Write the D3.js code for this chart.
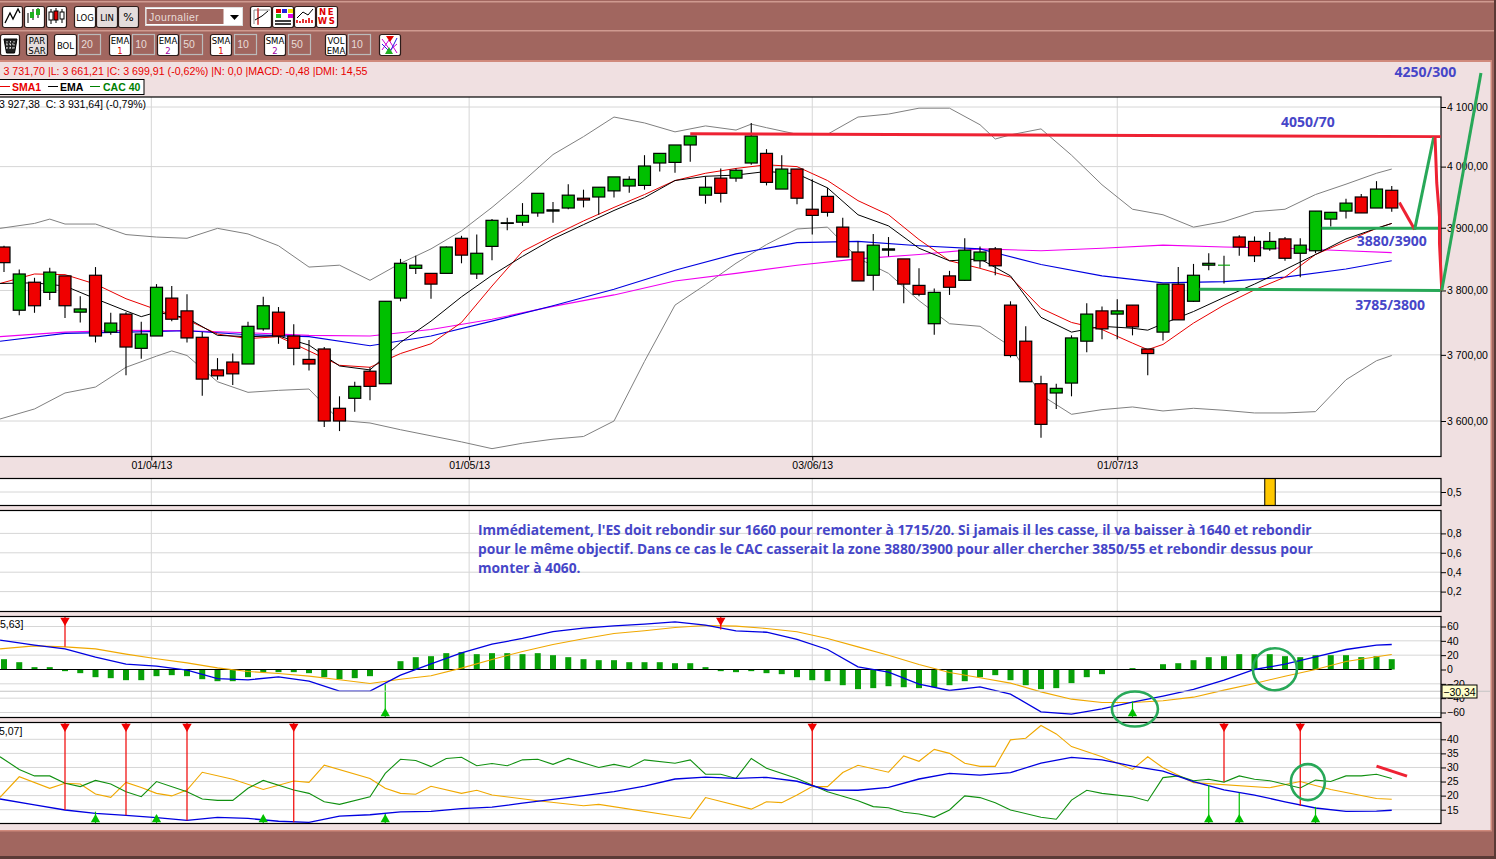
<!DOCTYPE html>
<html>
<head>
<meta charset="utf-8">
<script src="https://cdn.jsdelivr.net/npm/d3@7"></script>
<style>
  html, body { margin: 0; padding: 0; background: #f0e0e1; overflow: hidden; }
  svg { display: block; font-family: "Liberation Sans", Arial, sans-serif; }
  .tick text { font-size: 10.5px; fill: #000; }
</style>
</head>
<body>
<script>
// candles
var open = [3869,3769,3813,3797,3823,3766,3824,3735,3763,3710,3729,3788,3768,3727,3677,3689,3686,3740,3766,3729,3693,3709,3619,3634,3675,3656,3788,3835,3827,3827,3883,3826,3870,3907,3909,3924,3927,3932,3948,3950,3960,3968,3969,4006,4007,4036,3953,3981,3981,4006,4022,3963,3996,3930,3951,3901,3861,3824,3864,3850,3808,3748,3823,3816,3847,3866,3777,3721,3656,3642,3657,3721,3768,3763,3777,3709,3735,3810,3783,3840,3840,3885,3878,3866,3882,3859,3863,3914,3927,3950,3932,3961];
var high = [3871,3833,3820,3836,3823,3791,3837,3765,3766,3751,3810,3807,3794,3735,3695,3702,3751,3790,3774,3747,3723,3712,3637,3659,3681,3783,3850,3855,3827,3870,3887,3889,3914,3916,3940,3956,3942,3971,3962,3966,3983,3984,4019,4022,4036,4051,3984,3997,3997,4073,4029,4019,3996,3979,3965,3916,3878,3890,3885,3850,3835,3803,3831,3883,3870,3869,3783,3744,3668,3656,3730,3780,3775,3786,3777,3709,3810,3837,3842,3859,3855,3888,3886,3893,3885,3883,3927,3925,3947,3955,3976,3968];
var low = [3829,3761,3765,3785,3757,3750,3719,3731,3669,3694,3729,3752,3719,3638,3662,3654,3686,3737,3717,3684,3676,3591,3585,3614,3631,3656,3783,3826,3787,3827,3843,3818,3848,3896,3903,3918,3908,3930,3933,3921,3949,3957,3962,3992,3990,4008,3939,3941,3975,4003,3969,3963,3938,3889,3918,3853,3815,3800,3854,3780,3791,3731,3793,3815,3836,3824,3696,3659,3575,3618,3637,3704,3724,3724,3730,3669,3722,3754,3782,3832,3811,3855,3845,3863,3847,3821,3859,3902,3915,3924,3932,3926];
var close = [3844,3826,3776,3829,3776,3771,3729,3749,3712,3732,3805,3755,3726,3663,3668,3671,3744,3776,3729,3710,3686,3600,3600,3652,3652,3783,3843,3840,3810,3869,3856,3859,3912,3908,3920,3956,3929,3953,3945,3966,3983,3979,4001,4022,4036,4051,3966,3956,3994,4051,3974,3996,3948,3920,3925,3853,3815,3872,3866,3810,3794,3797,3805,3864,3861,3839,3699,3659,3595,3649,3726,3763,3740,3768,3743,3702,3810,3754,3824,3843,3840,3869,3855,3878,3851,3872,3927,3925,3940,3924,3963,3932];

// overlays (first point sits on the left edge of the picture)
var leftEdge = -0.26;
var lineIdx = [leftEdge].concat(d3.range(2, 92, 2), [91]);
function withIdx(extra) { return lineIdx.concat(extra).sort(d3.ascending); }
var bollUpIdx = withIdx([3, 49, 65]);
var bollUp = [3899,3907,3914,3906,3906,3889,3885,3883,3899,3890,3871,3837,3840,3816,3843,3866,3895,3933,3975,4020,4050,4083,4073,4058,4068,4061,4071,4065,4054,4054,4083,4088,4098,4098,4070,4046,4053,4063,4019,3970,3930,3921,3901,3910,3926,3930,3954,3971,3989,3996];
var bollDownIdx = withIdx([11]);
var bollDown = [3603,3618,3642,3651,3681,3698,3706,3699,3659,3643,3646,3648,3601,3597,3587,3578,3569,3559,3567,3573,3577,3600,3690,3777,3809,3843,3873,3898,3901,3851,3827,3784,3748,3744,3713,3639,3610,3617,3621,3615,3619,3616,3612,3612,3614,3662,3691,3699];
var sma1Idx = withIdx([75]);
var sma1 = [3811,3826,3825,3810,3787,3770,3754,3732,3725,3728,3706,3684,3681,3702,3717,3750,3807,3862,3887,3911,3933,3954,3977,3989,3997,4003,4000,3977,3944,3921,3881,3847,3835,3821,3772,3750,3739,3718,3708,3716,3749,3777,3801,3821,3857,3878,3899,3907];
var ema1Idx = withIdx([9, 75]);
var ema1 = [3811,3812,3807,3787,3768,3759,3766,3757,3730,3728,3729,3715,3683,3677,3719,3752,3790,3824,3854,3882,3905,3928,3949,3977,3984,3986,3992,3988,3965,3921,3903,3867,3847,3850,3823,3758,3735,3744,3741,3738,3748,3767,3789,3810,3833,3857,3882,3899,3907];
var slowIdx = [leftEdge].concat(d3.range(4, 92, 4), [91]);
var ema2 = [3721,3733,3735,3737,3731,3728,3714,3729,3752,3776,3802,3832,3858,3876,3878,3871,3866,3841,3823,3812,3814,3821,3834,3847];
var sma2 = [3728,3735,3738,3737,3734,3730,3729,3739,3755,3775,3793,3815,3827,3840,3850,3857,3866,3863,3867,3872,3869,3867,3863,3860];

// dates
var dateIdx = [9.66, 30.5, 53, 73];
var dateLabels = ["01/04/13", "01/05/13", "03/06/13", "01/07/13"];
var priceTicks = [4100, 4000, 3900, 3800, 3700, 3600];

// pane with the single orange bar
var flagTicks = [0.5];
var flagIdx = [83];
var flagVal = [1];

// empty pane with the comment
var noteTicks = [0.8, 0.6, 0.4, 0.2];
var note = [
  "Immédiatement, l'ES doit rebondir sur 1660 pour remonter à 1715/20. Si jamais il les casse, il va baisser à 1640 et rebondir",
  "pour le même objectif. Dans ce cas le CAC casserait la zone 3880/3900 pour aller chercher 3850/55 et rebondir dessus pour",
  "monter à 4060."
];

// MACD
var macdTicks = [60, 40, 20, -20, -40, -60];
var macdHist = [14.4,10.2,3.3,3.3,-2.3,-5.1,-10.7,-12.1,-14.9,-14.9,-9.3,-7.9,-9.3,-13.5,-16.3,-16.3,-10.7,-3.7,-3.7,-3.7,-5.1,-10.7,-13.5,-12.1,-9.3,0,11.6,17.2,18.6,22.8,24.2,21.4,22.8,22.8,21.4,22.8,20,17.2,14.4,13,13,10.2,10.2,10.2,8.8,8.8,3.3,-2.3,-3.7,-2.3,-5.1,-6.5,-10.7,-14.9,-16.3,-21.9,-27.4,-26,-23.3,-24.7,-26,-24.7,-21.9,-16.3,-10.7,-7.9,-14.9,-21.9,-27.4,-26,-19,-10.7,-6.5,0,1.9,0,7.4,8.8,13,17.2,18.6,21.4,21.4,21.4,18.6,17.2,20,20,20,17.2,18.6,14.4];
var macdLine = [40.9,34,28.8,17.2,7.4,4.7,-0.9,-12.6,-14.4,-10.2,-16.3,-30.2,-30.2,-7.9,7.9,23.3,35.3,43.3,53,57.7,60.9,63.3,66.5,61.9,54,52,41.9,27.9,3.7,-3.7,-20.5,-29.3,-24.2,-34.4,-59,-62.3,-54.9,-45.6,-37.2,-27.9,-14.9,0,7.4,17.7,27.9,34,34.9];
var macdSignal = [28.8,33,31.6,28.8,21.4,14.9,9.3,2.3,-2.8,-5.6,-9.3,-14.4,-19.5,-13.5,-8.8,1.9,14,25.1,34.9,42.8,50.2,54,58.6,61.4,60.5,57.2,52.6,43.3,31.6,20,7,-4.2,-11.6,-19,-31.2,-41.4,-46,-46,-43.7,-38.6,-28.8,-19.5,-9.3,0,11.2,17.7,20.9];
var macdSellIdx = [4, 47];
var macdSellVal = [31.6, 55.8];
var macdBuyIdx = [25, 74];
var macdBuyVal = [-20.5, -44.6];
var cursorVal = -30.34;

// DMI
var dmiTicks = [40, 35, 30, 25, 20, 15];
var adx = [18.8,16.7,14.9,13.7,13,12.2,11.2,12.3,11.9,10.9,10.5,12.7,13.2,14.2,14.4,15.4,15.9,17.3,18.7,20,21.4,23.4,25.9,26.6,26.1,26.5,25.1,22,21.9,22.9,25.9,27.9,27.3,28.2,31.5,33.6,32.7,30.5,28.7,25,22,20.2,17.8,15.6,14.4,14.5,14.8];
var dmiMinusIdx = [leftEdge,1,3,4,5,6,7,8,9,10,11,12,13,15,17,19,20,21,24,25,26,27,28,30,31,32,35,38,39,45,46,49,50,51,52,53,54,55,56,58,59,60,61,62,63,64,65,66,67,68,69,70,72,74,75,76,78,83,85,87,90,91];
var dmiMinus = [19.4,26.7,22.6,24.4,24.1,20.6,19.4,24.7,22.9,20.8,19.9,22,28.3,25.8,22.2,25.2,24.7,30.8,26.1,22.6,20.8,20.5,23.3,20.8,21.9,20.2,18.2,16.4,16.9,11.9,19.3,15.2,17.8,17.5,20.2,23.2,23.2,28.2,30.8,28.3,34.1,32.2,36.4,35,31.5,30.4,30.4,39.8,40.4,44.9,41.9,37.4,33.8,29.3,33.8,29.9,24.6,22.8,25,22.2,19,18.7];
var dmiPlusIdx = [leftEdge,1,2,3,4,5,6,7,8,9,10,12,13,14,15,16,17,19,20,21,22,24,25,26,27,28,29,30,31,32,33,34,35,36,37,39,40,41,42,44,45,46,47,48,49,50,52,54,56,57,58,59,60,61,62,63,64,65,66,68,69,70,71,72,74,75,76,77,78,79,80,81,82,83,85,86,87,88,89,90,91];
var dmiPlus = [33.8,29.3,27,27,24.4,23.2,25.4,24.1,21.4,19.6,25,21.4,18.8,18.3,18.3,22.6,25.4,22,20.8,17.8,16.9,19.6,27.9,32.9,32.5,30.3,33.2,33.6,30.6,31.4,30.6,32.7,32.9,31.1,33.2,30,31.1,30,32.7,31.5,32.7,27.6,27.6,26.1,33.2,29.7,26.1,21.4,18.2,16.1,15.7,14.1,13.5,12.3,14.9,19.9,19.3,17.5,14.9,12.3,11.6,18.4,21.9,20.8,19.6,18.1,26.4,27,25.3,25.8,24.8,27,25.8,25.3,22.7,25.5,25,27,27,27.6,26.1];
var dmiSellIdx = [4, 8, 12, 19, 53, 80, 85];
var dmiSellVal = [14.9, 13, 11.2, 10.5, 23.8, 24.9, 16.3];
var dmiBuyIdx = [6, 10, 17, 25, 79, 81, 86];
var dmiBuyVal = [14.3, 13.1, 12.9, 13.5, 23.8, 21, 16];

// hand drawn analysis on top of the chart: [candle index, price]
var redLevel = [[45, 4055], [94.2, 4050]];
var greenLevels = [[[86.4, 3899], [94.2, 3899]], [[78.4, 3802], [94.2, 3800]]];
var redStub = [[91.5, 3941], [92.5, 3897]];
var greenUp = [[92.5, 3897], [93.75, 4049]];
var redDown = [[93.84, 4049], [93.95, 3973], [94.13, 3918], [94.13, 3875], [94.28, 3800]];
var greenLong = [[94.28, 3800], [96.85, 4158]];
var priceNotes = ["4250/300", "4050/70", "3880/3900", "3785/3800"];
var priceNoteIdx = [93.2, 85.5, 91, 90.9];
var priceNoteVal = [4151, 4066, 3871, 3770];

var brown = "#a1665f", panel = "#f0e0e1", grid = "#d6d6d6", noteBlue = "#4646c8", markGreen = "#28a858", markRed = "#ee2233";

var W = 1496, H = 859, right = 1441;
var svg = d3.select("body").append("svg").attr("width", W).attr("height", H);
var fr = d3.formatLocale({decimal: ",", thousands: " ", grouping: [3], currency: ["", ""]});
var fPrice = fr.format(",.2f"), fOne = fr.format(".1f");

// frame
svg.append("rect").attr("width", W).attr("height", H).attr("fill", panel);
svg.append("rect").attr("width", W).attr("height", 60).attr("fill", brown);
svg.append("rect").attr("y", 831).attr("width", W).attr("height", 28).attr("fill", brown);
svg.append("rect").attr("x", 1491).attr("width", 5).attr("height", H).attr("fill", brown);
svg.append("rect").attr("x", 1490.5).attr("y", 60).attr("width", 1.5).attr("height", 771).attr("fill", "#d08a7c");
svg.append("rect").attr("y", 830).attr("width", 1492).attr("height", 1.5).attr("fill", "#d08a7c");
svg.append("rect").attr("y", 60).attr("width", 1492).attr("height", 2).attr("fill", "#d08a7c");
svg.append("rect").attr("y", 1).attr("width", W).attr("height", 1.5).attr("fill", "#cf9a90");
svg.append("rect").attr("y", 30).attr("width", W).attr("height", 1.5).attr("fill", "#cf9a90");
svg.append("rect").attr("y", 856).attr("width", W).attr("height", 3).attr("fill", "#5a3a36");
svg.append("rect").attr("x", 1494).attr("width", 2).attr("height", H).attr("fill", "#5a3a36");

// toolbar buttons
var buttons1 = [[2,20,""],[24,20,""],[46,20,""],[74,21,"LOG"],[96,21,"LIN"],[118,20,"%"],[250,21,""],[272,21,""],[294,21,""],[316,21,""]];
var buttons2 = [[0,19,""],[26,21,"PAR|SAR"],[54,22,"BOL"],[109,21,"EMA|1"],[157,21,"EMA|2"],[210,21,"SMA|1"],[264,21,"SMA|2"],[325,21,"VOL|EMA"],[379,21,""]];
var fields = [[78,"20"],[132,"10"],[180,"50"],[234,"10"],[288,"50"],[348,"10"]];

function drawButtons(list, y, h) {
  var b = svg.append("g").selectAll("g").data(list).join("g")
    .attr("transform", d => `translate(${d[0]},${y})`);
  b.append("rect").attr("x", 0.5).attr("y", 0.5).attr("width", d => d[1]).attr("height", h)
    .attr("rx", 2).attr("fill", d => d[2] == "LIN" || d[2] == "%" || d[2] == "PAR|SAR" ? "#e4dcdc" : "#fff")
    .attr("stroke", "#2c1c1a").attr("stroke-width", 1.2);
  b.each(function(d) {
    var parts = d[2].split("|");
    var g = d3.select(this);
    parts.forEach(function(t, i) {
      g.append("text").text(t)
        .attr("x", d[1] / 2 + 0.5)
        .attr("y", parts.length == 2 ? 10 + i * 10 : h / 2 + 4)
        .attr("text-anchor", "middle")
        .attr("font-family", "DejaVu Sans")
        .attr("font-size", t == "%" ? 11 : 8.5)
        .attr("fill", t == "1" ? "#e00000" : t == "2" ? "#a000a0" : "#000")
        .text(t);
    });
  });
}
drawButtons(buttons1, 6, 21);
drawButtons(buttons2, 34, 21);

// toolbar icons
var icons = svg.append("g").attr("fill", "none").attr("stroke", "#000").attr("stroke-width", 1);
icons.append("path").attr("d", "M5 23L10 13L13 19L18 9L20 13").attr("stroke-width", 1.3);
icons.append("path").attr("d", "M28 13V23M33 9V20M38 8V18").attr("stroke", "#000");
icons.append("path").attr("d", "M30 12H34V18H30Z").attr("fill", "#20b020").attr("stroke", "none");
icons.append("path").attr("d", "M36 9H40V15H36Z").attr("fill", "#20b020").attr("stroke", "none");
icons.append("path").attr("d", "M51 9V24M56 8V23M62 9V23");
icons.append("rect").attr("x", 49).attr("y", 12).attr("width", 4).attr("height", 8).attr("fill", "#fff");
icons.append("rect").attr("x", 54).attr("y", 11).attr("width", 4).attr("height", 9).attr("fill", "#e00000");
icons.append("rect").attr("x", 60).attr("y", 12).attr("width", 4).attr("height", 7).attr("fill", "#fff");
icons.append("path").attr("d", "M254 24V10H270M258 10V24").attr("stroke", "#888");
icons.append("path").attr("d", "M258 8V25").attr("stroke", "#e00000");
icons.append("path").attr("d", "M255 20L262 16L268 11");
[["#e00000",276],["#2020e0",282],["#f0e000",288]].forEach(function(c) {
  icons.append("rect").attr("x", c[1]).attr("y", 9).attr("width", 5).attr("height", 4).attr("fill", c[0]).attr("stroke", "none");
});
[["#20c020",276],["#fff",282],["#e000e0",288]].forEach(function(c) {
  icons.append("rect").attr("x", c[1]).attr("y", 14).attr("width", 5).attr("height", 4).attr("fill", c[0]).attr("stroke", "none");
});
icons.append("path").attr("d", "M275 21H291M275 24H291").attr("stroke-width", 1.5);
icons.append("path").attr("d", "M297 18L303 12L308 15L313 9");
icons.append("path").attr("d", "M297 23V20M300 23V21M303 23V19M306 23V20M309 23V18M312 23V20").attr("stroke", "#e00000").attr("stroke-width", 1.6);
[["NE",318,15],["WS",318,24]].forEach(function(n) {
  icons.append("text").text(n[0]).attr("x", n[1] + 9).attr("y", n[2]).attr("text-anchor", "middle")
    .attr("font-size", 8.5).attr("font-weight", "bold").attr("font-family", "DejaVu Sans").attr("letter-spacing", 1.5)
    .attr("fill", "#e00000").attr("stroke", "none");
});
icons.append("path").attr("d", "M4 39H17L14.5 53H6.5Z").attr("fill", "#222");
icons.append("path").attr("d", "M7 41V50M10.500 41V50M14 41V50M6 44H15M6 48H15").attr("stroke", "#ddd").attr("stroke-dasharray", "1.5 1.5");
icons.append("path").attr("d", "M382 39L390 50L397 44M382 50L389 40L397 53").attr("stroke", "#d000d0");
icons.append("path").attr("d", "M382 44L390 52L397 38").attr("stroke", "#2020e0");
icons.append("path").attr("d", "M386 36H394L390 42Z").attr("fill", "#e00000").attr("stroke", "none");
icons.append("path").attr("d", "M385 54H393L389 47Z").attr("fill", "#20b020").attr("stroke", "none");

// number fields
var fieldG = svg.append("g").selectAll("g").data(fields).join("g").attr("transform", d => `translate(${d[0]},34)`);
fieldG.append("rect").attr("x", 0.5).attr("y", 0.5).attr("width", 22).attr("height", 20).attr("fill", brown).attr("stroke", "#bbb").attr("stroke-width", 1.2);
fieldG.append("text").text(d => d[1]).attr("x", 9).attr("y", 14).attr("text-anchor", "middle").attr("font-size", 10.5).attr("fill", "#e8dcd8");

// period selector
svg.append("rect").attr("x", 145.5).attr("y", 7.5).attr("width", 97).attr("height", 18).attr("fill", "#fff").attr("stroke", "#ddd");
svg.append("rect").attr("x", 146.5).attr("y", 9).attr("width", 77).attr("height", 15).attr("fill", brown);
svg.append("text").text("Journalier").attr("x", 149).attr("y", 20.500).attr("font-size", 10.5).attr("letter-spacing", 0.4).attr("fill", "#e8dcd8");
svg.append("path").attr("d", "M230 15H239L234.5 20Z").attr("fill", "#000");

// status text and legend
svg.append("text").text("3 731,70 |L: 3 661,21 |C: 3 699,91 (-0,62%) |N: 0,0 |MACD: -0,48 |DMI: 14,55")
  .attr("x", 3.5).attr("y", 75).attr("font-size", 10.65).attr("fill", "#e80000");
svg.append("rect").attr("x", -2).attr("y", 79.5).attr("width", 146).attr("height", 15).attr("fill", "#fff").attr("stroke", "#000");
var legend = [["SMA1", "#e80000", 0, 12], ["EMA", "#000", 48, 60], ["CAC 40", "#008000", 90, 103]];
legend.forEach(function(l) {
  svg.append("line").attr("x1", l[2]).attr("x2", l[2] + 10).attr("y1", 86.5).attr("y2", 86.5).attr("stroke", l[1]);
  svg.append("text").text(l[0]).attr("x", l[3]).attr("y", 91).attr("font-size", 10.5).attr("font-weight", "bold").attr("fill", l[1]);
});

// scales
var x = d3.scaleLinear().domain([0, 91]).range([4, 1391.75]);
var yPrice = d3.scaleLog().domain([3600, 4100]).range([421, 107]);
var yFlag = d3.scaleLinear().domain([0, 1]).range([505.5, 478.5]);
var yNote = d3.scaleLinear().domain([0, 1]).range([611, 514]);
var yMacd = d3.scaleLinear().domain([-60, 60]).range([712.5, 626.5]);
var yDmi = d3.scaleLinear().domain([15, 40]).range([809.7, 739.3]);

// panes
function addPane(top, bottom, scale, ticks, format) {
  var g = svg.append("g");
  g.append("rect").attr("x", -2).attr("y", top).attr("width", right + 2).attr("height", bottom - top).attr("fill", "#fff");
  g.selectAll(".hgrid").data(ticks).join("line").attr("class", "hgrid")
    .attr("x1", 0).attr("x2", right)
    .attr("y1", d => scale(d)).attr("y2", d => scale(d))
    .attr("stroke", grid).attr("stroke-width", 1);
  g.selectAll(".vgrid").data(dateIdx).join("line").attr("class", "vgrid")
    .attr("x1", d => x(d)).attr("x2", d => x(d))
    .attr("y1", top).attr("y2", bottom)
    .attr("stroke", grid).attr("stroke-width", 1);
  var ax = d3.axisRight(scale).tickValues(ticks).tickFormat(format).tickSize(5).tickPadding(1);
  g.append("g").attr("transform", `translate(${right},0)`).call(ax).call(s => s.select(".domain").remove());
  return g;
}
function paneBorder(top, bottom) {
  svg.append("rect").attr("x", -2).attr("y", top).attr("width", right + 2).attr("height", bottom - top)
    .attr("fill", "none").attr("stroke", "#000").attr("stroke-width", 1.2);
}

var mainPane = addPane(97, 456.5, yPrice, priceTicks, fPrice);
var flagPane = addPane(478.5, 505.5, yFlag, flagTicks, fOne);
var notePane = addPane(510.5, 611.5, yNote, noteTicks, fOne);
var macdPane = addPane(616.5, 717.5, yMacd, macdTicks, d3.format("d"));
var dmiPane = addPane(722.5, 823.5, yDmi, dmiTicks, d3.format("d"));

// zero tick of macd
macdPane.append("g").attr("transform", `translate(${right},0)`)
  .call(d3.axisRight(yMacd).tickValues([0]).tickSize(5).tickPadding(1)).call(s => s.select(".domain").remove());

// date axis
svg.append("g").attr("transform", "translate(0,456.5)")
  .call(d3.axisBottom(x).tickValues(dateIdx).tickFormat((d, i) => dateLabels[i]).tickSize(4).tickPadding(1))
  .call(s => s.select(".domain").remove());

// helper for overlays
function overlay(g, idx, values, scale, color, width) {
  var line = d3.line().x(d => x(d[0])).y(d => scale(d[1]));
  g.append("path").datum(idx.map((d, i) => [d, values[i]]))
    .attr("d", line).attr("fill", "none").attr("stroke", color).attr("stroke-width", width);
}

// main pane overlays go under the candles
overlay(mainPane, bollUpIdx, bollUp, yPrice, "#808080", 1);
overlay(mainPane, bollDownIdx, bollDown, yPrice, "#808080", 1);
overlay(mainPane, slowIdx, sma2, yPrice, "#f000f0", 1.1);
overlay(mainPane, slowIdx, ema2, yPrice, "#0000e0", 1.1);
overlay(mainPane, sma1Idx, sma1, yPrice, "#e80000", 1);
overlay(mainPane, ema1Idx, ema1, yPrice, "#000", 1);

// candles
var candles = d3.range(open.length);
mainPane.append("g").selectAll("line").data(candles).join("line")
  .attr("x1", d => x(d)).attr("x2", d => x(d))
  .attr("y1", d => yPrice(high[d])).attr("y2", d => yPrice(low[d]))
  .attr("stroke", "#000").attr("stroke-width", 1.1);
mainPane.append("g").selectAll("rect").data(candles.filter(d => open[d] != close[d])).join("rect")
  .attr("x", d => x(d) - 6)
  .attr("width", 12)
  .attr("y", d => yPrice(Math.max(open[d], close[d])))
  .attr("height", d => Math.abs(yPrice(open[d]) - yPrice(close[d])))
  .attr("fill", d => close[d] > open[d] ? "#00c000" : "#f00000")
  .attr("stroke", "#000").attr("stroke-width", 1.2);
mainPane.append("g").selectAll("line").data(candles.filter(d => open[d] == close[d])).join("line")
  .attr("x1", d => x(d) - 6).attr("x2", d => x(d) + 6)
  .attr("y1", d => yPrice(open[d])).attr("y2", d => yPrice(open[d]))
  .attr("stroke", "#00a000").attr("stroke-width", 1.1);

// orange bar
flagPane.selectAll(".flag").data(flagIdx).join("rect").attr("class", "flag")
  .attr("x", d => x(d) - 5)
  .attr("width", 10.500)
  .attr("y", (d, i) => yFlag(flagVal[i]))
  .attr("height", (d, i) => yFlag(0) - yFlag(flagVal[i]))
  .attr("fill", "#ffc800").attr("stroke", "#000").attr("stroke-width", 1);

// comment
notePane.selectAll(".note").data(note).join("text").attr("class", "note")
  .text(d => d)
  .attr("x", 478).attr("y", (d, i) => 535 + i * 19)
  .attr("font-family", "Open Sans").attr("font-weight", 700).attr("font-size", 13.8)
  .attr("fill", noteBlue);

// macd
macdPane.append("g").selectAll("rect").data(macdHist).join("rect")
  .attr("x", (d, i) => x(i) - 3).attr("width", 6)
  .attr("y", d => yMacd(Math.max(d, 0)))
  .attr("height", d => Math.abs(yMacd(d) - yMacd(0)))
  .attr("fill", "#08a008");
macdPane.append("line").attr("x1", 0).attr("x2", x(91))
  .attr("y1", yMacd(0)).attr("y2", yMacd(0)).attr("stroke", "#000").attr("stroke-width", 1.2);
overlay(macdPane, lineIdx, macdSignal, yMacd, "#f0a800", 1.1);
overlay(macdPane, lineIdx, macdLine, yMacd, "#0000e0", 1.3);

// dmi
overlay(dmiPane, dmiMinusIdx, dmiMinus, yDmi, "#f0a800", 1.1);
overlay(dmiPane, dmiPlusIdx, dmiPlus, yDmi, "#109010", 1.1);
overlay(dmiPane, lineIdx, adx, yDmi, "#0000e0", 1.3);

// signal arrows
function signals(g, idx, vals, scale, yEdge, up) {
  var color = up ? "#00c000" : "#f00000";
  g.append("g").selectAll("line").data(idx).join("line")
    .attr("x1", d => x(d)).attr("x2", d => x(d))
    .attr("y1", yEdge).attr("y2", (d, i) => scale(vals[i]))
    .attr("stroke", color).attr("stroke-width", 1.2);
  g.append("g").selectAll("path").data(idx).join("path")
    .attr("d", d3.symbol().type(d3.symbolTriangle).size(38))
    .attr("transform", d => `translate(${x(d)},${up ? yEdge - 3.5 : yEdge + 3.5}) rotate(${up ? 0 : 180})`)
    .attr("fill", color);
}
signals(macdPane, macdSellIdx, macdSellVal, yMacd, 617, false);
signals(macdPane, macdBuyIdx, macdBuyVal, yMacd, 717, true);
signals(dmiPane, dmiSellIdx, dmiSellVal, yDmi, 723, false);
signals(dmiPane, dmiBuyIdx, dmiBuyVal, yDmi, 823, true);

// cursor
svg.append("line").attr("x1", 0).attr("x2", 1490).attr("y1", yMacd(cursorVal)).attr("y2", yMacd(cursorVal))
  .attr("stroke", "#c4c4c4").attr("stroke-width", 1);

// pane borders
paneBorder(97, 456.5);
paneBorder(478.5, 505.5);
paneBorder(510.5, 611.5);
paneBorder(616.5, 717.5);
paneBorder(722.5, 823.5);

// pane headers (cut by the left edge)
svg.append("text").text("3 927,38  C: 3 931,64] (-0,79%)").attr("x", -1).attr("y", 108).attr("font-size", 10.5).style("white-space", "pre");
svg.append("text").text("5,63]").attr("x", 0).attr("y", 628).attr("font-size", 10.5);
svg.append("text").text("5,07]").attr("x", -1).attr("y", 735).attr("font-size", 10.5);

// cursor value
svg.append("rect").attr("x", 1442).attr("y", 685).attr("width", 35).attr("height", 13)
  .attr("fill", "#ffffcc").attr("stroke", "#000").attr("stroke-width", 1);
svg.append("text").text(fr.format(".2f")(cursorVal)).attr("x", 1459.5).attr("y", 695.5)
  .attr("text-anchor", "middle").attr("font-size", 10.5);

// analysis drawn on the chart
var pline = d3.line().x(d => x(d[0])).y(d => yPrice(d[1]));
function mark(points, color, width) {
  svg.append("path").datum(points).attr("d", pline).attr("fill", "none")
    .attr("stroke", color).attr("stroke-width", width).attr("stroke-linejoin", "round");
}
mark(redLevel, markRed, 3);
greenLevels.forEach(l => mark(l, markGreen, 3));
mark(redStub, markRed, 3);
mark(greenUp, markGreen, 3);
mark(redDown, markRed, 3);
mark(greenLong, markGreen, 3);

svg.append("g").selectAll("text").data(priceNotes).join("text")
  .text(d => d)
  .attr("x", (d, i) => x(priceNoteIdx[i]))
  .attr("y", (d, i) => yPrice(priceNoteVal[i]))
  .attr("text-anchor", "middle")
  .attr("font-family", "Open Sans").attr("font-weight", 700).attr("font-size", 14)
  .attr("fill", noteBlue);

// green circles and red stroke
var rings = [[74.16, -55.2, 23, 17.5, yMacd], [83.34, 0.4, 22, 21, yMacd], [85.5, 24.8, 17, 18, yDmi]];
rings.forEach(function(r) {
  svg.append("ellipse").attr("cx", x(r[0])).attr("cy", r[4](r[1])).attr("rx", r[2]).attr("ry", r[3])
    .attr("fill", "none").attr("stroke", markGreen).attr("stroke-width", 2.6);
});
var dmiStroke = [[90, 30.5], [92, 26.9]];
svg.append("path").datum(dmiStroke)
  .attr("d", d3.line().x(d => x(d[0])).y(d => yDmi(d[1])))
  .attr("fill", "none").attr("stroke", markRed).attr("stroke-width", 3);
</script>
</body>
</html>
